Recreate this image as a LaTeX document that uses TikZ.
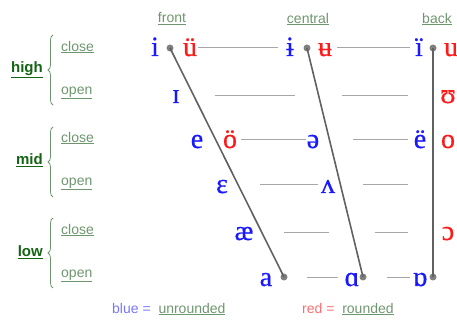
\documentclass[tikz,border=0pt]{standalone}
\usepackage{fontspec}
\setmainfont{Liberation Serif}
\setsansfont{Liberation Sans}
\newfontfamily\vowfont[FakeBold=0.6]{Liberation Serif}
\usetikzlibrary{decorations.pathreplacing}
\definecolor{vblue}{RGB}{25,25,255}
\definecolor{vred}{RGB}{255,25,25}
\definecolor{lab}{RGB}{110,150,110}
\definecolor{dgreen}{RGB}{20,100,20}
\definecolor{lblue}{RGB}{120,120,255}
\definecolor{lred}{RGB}{255,110,110}
\begin{document}
\begin{tikzpicture}[x=1pt,y=-1pt,
 vow/.style={font=\vowfont\fontsize{28}{28}\selectfont, anchor=base, inner sep=0pt},
 unr/.style={vow,text=vblue},
 rnd/.style={vow,text=vred},
 lbl/.style={font=\sffamily\fontsize{14}{14}\selectfont, text=lab, anchor=west, inner sep=0pt},
 head/.style={lbl, anchor=center},
 grp/.style={font=\sffamily\bfseries\fontsize{15}{15}\selectfont, text=dgreen, anchor=east, inner sep=0pt},
 hline/.style={draw=black!35, line width=1pt},
 dline/.style={draw=black!62, line width=1.6pt},
 dotn/.style={circle, fill=black!50, inner sep=0pt, minimum size=7pt},
 brc/.style={draw=lab, line width=0.8pt, decorate, decoration={brace, amplitude=5pt}}]
\useasboundingbox (0,0) rectangle (457,320);
% headings
\node[head] (front) at (172,19) {\underline{front}};
\node[head] (central) at (308,19) {\underline{central}};
\node[head] (back) at (437,19) {\underline{back}};
% groups
\node[grp] (high) at (43,70) {\underline{high}};
\node[grp] (mid) at (43,160) {\underline{mid}};
\node[grp] (low) at (43,252) {\underline{low}};
\coordinate (hb1) at (53,105); \coordinate (ht1) at (53,35);
\coordinate (hb2) at (53,197); \coordinate (ht2) at (53,127);
\coordinate (hb3) at (53,288); \coordinate (ht3) at (53,218);
\draw[brc] (hb1) -- (ht1);
\draw[brc] (hb2) -- (ht2);
\draw[brc] (hb3) -- (ht3);
\node[lbl] (c1) at (61,47) {\underline{close}};
\node[lbl] (o1) at (61,93) {\underline{open}};
\node[lbl] (c2) at (61,138) {\underline{close}};
\node[lbl] (o2) at (61,184) {\underline{open}};
\node[lbl] (c3) at (61,230) {\underline{close}};
\node[lbl] (o3) at (61,276) {\underline{open}};
% dots
\node[dotn] (d1) at (170,48) {};
\node[dotn] (d2) at (307,48) {};
\node[dotn] (d3) at (433,48) {};
\node[dotn] (d4) at (284,277) {};
\node[dotn] (d5) at (363,277) {};
\node[dotn] (d6) at (433,277) {};
\draw[dline] (d1.center) -- (d4.center);
\draw[dline] (d2.center) -- (d5.center);
\draw[dline] (d3.center) -- (d6.center);
% vowels row 1
\node[unr] (v-i) at (155,56) {i};
\node[rnd] (v-uu) at (190,56) {ü};
\node[unr] (v-ib) at (290,56) {ɨ};
\node[rnd] (v-ub) at (325,56) {ʉ};
\node[unr] (v-ii) at (419,56) {ï};
\node[rnd] (v-u) at (451,56) {u};
% row 2
\node[unr] (v-I) at (176,103) {ɪ};
\node[rnd] (v-U) at (448,103) {ʊ};
% row 3
\node[unr] (v-e) at (197,148) {e};
\node[rnd] (v-oo) at (230,148) {ö};
\node[unr] (v-schwa) at (313,148) {ə};
\node[unr] (v-ee) at (420,148) {ë};
\node[rnd] (v-o) at (448,148) {o};
% row 4
\node[unr] (v-eps) at (222,193) {ɛ};
\node[unr] (v-wedge) at (328,193) {ʌ};
% row 5
\node[unr] (v-ae) at (244,240) {æ};
\node[rnd] (v-oc) at (448,240) {ɔ};
% row 6
\node[unr] (v-a) at (266,286) {a};
\node[unr] (v-al) at (352,286) {ɑ};
\node[unr] (v-ol) at (420,286) {ɒ};
% horizontal guide lines
\coordinate (h1a) at (198,48); \coordinate (h1b) at (278,48);
\coordinate (h1c) at (337,48); \coordinate (h1d) at (410,48);
\coordinate (h2a) at (215,96); \coordinate (h2b) at (295,96);
\coordinate (h2c) at (342,96); \coordinate (h2d) at (408,96);
\coordinate (h3a) at (241,140); \coordinate (h3b) at (306,140);
\coordinate (h3c) at (353,140); \coordinate (h3d) at (408,140);
\coordinate (h4a) at (260,185); \coordinate (h4b) at (318,185);
\coordinate (h4c) at (363,185); \coordinate (h4d) at (408,185);
\coordinate (h5a) at (284,232); \coordinate (h5b) at (329,232);
\coordinate (h5c) at (375,232); \coordinate (h5d) at (408,232);
\coordinate (h6a) at (307,277); \coordinate (h6b) at (338,277);
\coordinate (h6c) at (387,277); \coordinate (h6d) at (410,277);
\foreach \r in {1,...,6} {
  \draw[hline] (h\r a) -- (h\r b);
  \draw[hline] (h\r c) -- (h\r d);
}
% legend
\node[lbl] (leg1) at (112,309) {\textcolor{lblue}{blue =}\ \ \underline{unrounded}};
\node[lbl] (leg2) at (302,309) {\textcolor{lred}{red =}\ \ \underline{rounded}};
\end{tikzpicture}
\end{document}
